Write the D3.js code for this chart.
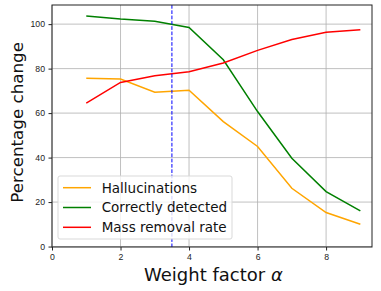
<!DOCTYPE html>
<html>
<head>
<meta charset="utf-8">
<script src="https://cdn.jsdelivr.net/npm/d3@7"></script>
<style>
  body { margin: 0; background: #fff; }
  svg { display: block; font-family: "DejaVu Sans", sans-serif; }
  .grid line { stroke: #b0b0b0; stroke-width: 0.8; }
  .tick text { font-size: 8.7px; fill: #222; }
  .tick line { stroke: #222; }
</style>
</head>
<body>
<svg width="381" height="291"></svg>
<script>
var alphas = [1, 2, 3, 4, 5, 6, 7, 8, 9];
var hallucinations = [75.7, 75.3, 69.4, 70.3, 56.2, 45, 26.2, 15.3, 10];
var correctlyDetected = [103.7, 102.3, 101.3, 98.5, 84, 60.7, 39.7, 24.7, 16];
var massRemoval = [64.5, 73.8, 76.8, 78.6, 82.5, 88.2, 93.1, 96.3, 97.5];
var xTicks = [0, 2, 4, 6, 8];
var yTicks = [0, 20, 40, 60, 80, 100];
var markerAlpha = 3.5;

var series = [
  { name: "Hallucinations", values: hallucinations, color: "orange" },
  { name: "Correctly detected", values: correctlyDetected, color: "green" },
  { name: "Mass removal rate", values: massRemoval, color: "red" }
];

var margin = {top: 5, right: 9, bottom: 44, left: 52},
    width = 381 - margin.left - margin.right,
    height = 291 - margin.top - margin.bottom;

var svg = d3.select("svg")
  .append("g")
    .attr("transform", "translate(" + margin.left + "," + margin.top + ")");

var x = d3.scaleLinear().domain([0, 9.34]).range([0, width]);
var y = d3.scaleLinear().domain([-0.2, 108.6]).range([height, 0]);

// grid
svg.append("g").attr("class", "grid")
  .selectAll("line").data(xTicks).enter().append("line")
    .attr("x1", function(d) { return x(d); }).attr("x2", function(d) { return x(d); })
    .attr("y1", 0).attr("y2", height);
svg.append("g").attr("class", "grid")
  .selectAll("line").data(yTicks).enter().append("line")
    .attr("y1", function(d) { return y(d); }).attr("y2", function(d) { return y(d); })
    .attr("x1", 0).attr("x2", width);

// lines
var line = d3.line()
  .x(function(d, i) { return x(alphas[i]); })
  .y(function(d) { return y(d); });

series.forEach(function(s) {
  svg.append("path")
    .datum(s.values)
    .attr("fill", "none")
    .attr("stroke", s.color)
    .attr("stroke-width", 1.5)
    .attr("d", line);
});

// dashed marker
svg.append("line")
  .attr("x1", x(markerAlpha)).attr("x2", x(markerAlpha))
  .attr("y1", 0).attr("y2", height)
  .attr("stroke", "blue")
  .attr("stroke-width", 1)
  .attr("stroke-dasharray", "3.7,1.6");

// axes
svg.append("g")
  .attr("transform", "translate(0," + height + ")")
  .call(d3.axisBottom(x).tickValues(xTicks).tickSize(3.5).tickPadding(3).tickFormat(d3.format("d")))
  .call(function(g) { g.select(".domain").remove(); });
svg.append("g")
  .call(d3.axisLeft(y).tickValues(yTicks).tickSize(3.5).tickPadding(3.5).tickFormat(d3.format("d")))
  .call(function(g) { g.select(".domain").remove(); });

svg.append("rect")
  .attr("width", width).attr("height", height)
  .attr("fill", "none").attr("stroke", "#222").attr("stroke-width", 1);

// legend
var legend = svg.append("g").attr("transform", "translate(6,171)");
legend.append("rect")
  .attr("width", 174).attr("height", 63).attr("rx", 2)
  .attr("fill", "#fff").attr("fill-opacity", 0.8)
  .attr("stroke", "#d9d9d9");
series.forEach(function(s, i) {
  var ly = 11.7 + i * 19.8;
  legend.append("line")
    .attr("x1", 5).attr("x2", 33).attr("y1", ly).attr("y2", ly)
    .attr("stroke", s.color).attr("stroke-width", 1.5);
  legend.append("text")
    .attr("x", 43.7).attr("y", ly).attr("dy", "0.36em")
    .attr("font-size", 13.5).attr("fill", "#111")
    .text(s.name);
});

// axis labels
svg.append("text")
  .attr("x", 213.4 - margin.left).attr("y", 281 - margin.top)
  .attr("text-anchor", "middle").attr("font-size", 18).attr("fill", "#111")
  .html("Weight factor <tspan font-style='italic'>α</tspan>");
svg.append("text")
  .attr("transform", "translate(" + (23.3 - margin.left) + "," + (122.4 - margin.top) + ") rotate(-90)")
  .attr("text-anchor", "middle").attr("font-size", 16.7).attr("fill", "#111")
  .text("Percentage change");
</script>
</body>
</html>
